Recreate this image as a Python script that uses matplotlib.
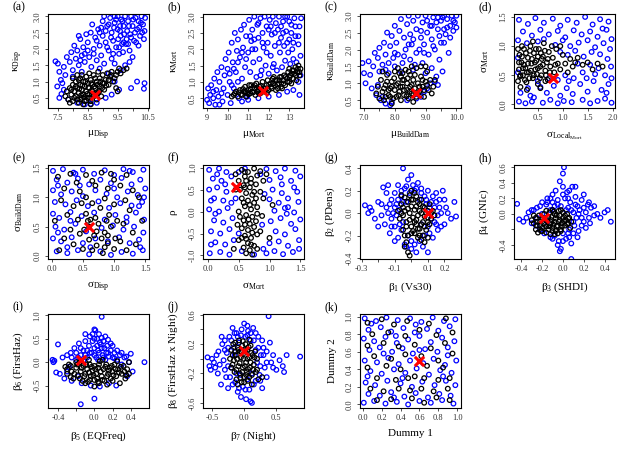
import matplotlib
matplotlib.use("Agg")
import matplotlib.pyplot as plt

plt.rcParams['font.family'] = ['Liberation Serif', 'DejaVu Serif']
plt.rcParams['mathtext.fontset'] = 'custom'
plt.rcParams['mathtext.rm'] = 'Liberation Serif'
plt.rcParams['mathtext.it'] = 'Liberation Serif:italic'

# ---------------- data ----------------
# (a) mu_Disp vs kappa_Disp
a_blue = [(7.42,1.62),(7.5,1.55),(7.55,1.3),(7.48,0.85),(7.6,1.05),(7.62,0.62),(7.55,0.5),(7.7,1.45),(7.75,1.2),(7.8,1.75),
          (7.85,0.45),(7.9,1.6),(7.95,1.9),(8.0,1.35),(8.05,2.1),(8.1,1.7),(8.15,1.95),(8.2,1.5),(8.25,2.3),(8.3,1.8),
          (8.35,2.05),(8.4,1.6),(8.45,2.45),(8.5,2.2),(8.55,1.75),(8.6,2.5),(8.62,1.45),(8.7,2.0),(8.75,2.35),(8.8,1.65),
          (8.85,2.6),(8.9,2.1),(8.95,1.8),(9.0,2.85),(9.0,2.4),(9.05,1.55),(9.1,2.2),(9.15,2.7),(9.2,1.95),(9.25,2.95),
          (9.3,2.5),(9.3,1.7),(9.35,2.25),(9.4,2.8),(9.45,2.05),(9.5,2.6),(9.5,3.0),(9.55,1.85),(9.6,2.4),(9.62,2.9),
          (9.65,2.15),(9.7,2.7),(9.75,3.0),(9.8,2.3),(9.82,2.55),(9.85,2.85),(9.9,1.95),(9.92,2.45),(9.95,3.0),(10.0,2.7),
          (10.05,2.25),(10.1,2.95),(10.15,2.6),(10.2,2.85),(10.25,2.4),(10.3,3.0),(10.35,2.75),(10.4,2.55),(10.42,2.95),(9.9,1.6),
          (10.0,1.75),(10.15,1.0),(10.4,0.95),(10.38,0.78),(9.95,0.8),(9.55,0.75),(9.4,1.0),(9.6,1.35),(9.75,1.5),(8.4,0.3),
          (8.6,0.32),(8.8,0.35),(9.1,0.5),(9.3,0.6),(7.7,0.75),(7.65,0.95),(8.15,0.35),(8.0,1.15),(8.9,1.4),(9.2,1.25),
          (9.4,1.55),(8.3,1.3),(9.68,1.9),(9.85,2.15),(10.2,2.1),(9.05,3.0),(9.4,3.0),(8.65,2.75),(8.2,2.4),(9.58,2.7),
          (9.1,2.55),(9.2,2.75),(9.28,2.35),(9.38,2.65),(9.45,2.9),(9.52,2.3),(9.58,2.55),(9.66,2.85),(9.72,2.45),(9.78,2.15),
          (9.88,2.7),(9.95,2.35),(10.02,2.9),(10.08,2.5),(10.12,2.2),(10.22,2.65),(10.28,2.8),(10.32,2.5),(10.38,2.3),(8.9,2.5),
          (8.8,2.25),(8.7,1.85),(8.5,1.95),(8.4,1.85),(8.25,1.65),(8.95,2.65),(9.15,2.05),(9.35,1.85),(9.55,2.05),(9.7,2.2)]
a_black = [(7.75,0.55),(7.8,0.7),(7.85,0.45),(7.9,0.8),(7.95,0.6),(8.0,0.9),(8.0,0.4),(8.05,0.7),(8.1,1.0),(8.1,0.55),
           (8.15,0.8),(8.2,0.35),(8.2,0.65),(8.25,1.1),(8.25,0.9),(8.3,0.5),(8.3,0.75),(8.35,1.0),(8.35,0.6),(8.4,0.4),
           (8.4,0.85),(8.45,1.15),(8.45,0.7),(8.5,0.5),(8.5,0.95),(8.55,0.8),(8.55,0.6),(8.6,1.05),(8.6,0.4),(8.65,0.7),
           (8.65,0.9),(8.7,1.2),(8.7,0.55),(8.75,0.8),(8.8,1.0),(8.8,0.45),(8.85,0.65),(8.9,1.1),(8.9,0.85),(8.95,0.55),
           (9.0,0.95),(9.0,1.2),(9.05,0.75),(9.1,1.05),(9.15,1.25),(9.2,0.9),(9.25,1.15),(9.3,1.3),(9.35,1.0),(9.45,1.2),
           (9.5,1.3),(9.6,1.25),(9.7,1.35),(9.8,1.4),(8.25,0.45),(8.55,1.25),(8.0,1.1),(7.9,0.35),(8.35,0.3),(9.45,0.8),
           (9.5,0.7),(8.15,1.2),(8.85,1.3),(8.6,0.3),
           (7.95,0.75),(8.05,0.5),(8.1,0.85),(8.15,0.45),(8.2,1.05),(8.22,0.78),(8.28,0.58),(8.32,0.88),(8.38,0.52),(8.42,1.0),
           (8.48,0.62),(8.52,0.82),(8.58,0.5),(8.62,0.95),(8.68,0.62),(8.72,0.85),(8.78,0.62),(8.82,0.9),(8.88,0.7),(8.92,1.0),
           (8.98,0.8),(9.05,0.95),(9.12,0.88),(9.2,1.05),(9.28,1.2),(9.4,1.1),(8.45,0.42),(8.3,1.2),(8.75,1.1),(9.55,1.4)]
a_best = (8.75, 0.6)

# (b) mu_Mort vs kappa_Mort
b_blue = [(9.0,0.45),(9.05,0.8),(9.1,0.35),(9.15,0.6),(9.2,0.9),(9.3,0.5),(9.35,1.1),(9.4,0.3),(9.45,0.75),(9.5,1.3),
          (9.55,0.55),(9.6,1.0),(9.7,1.45),(9.75,0.4),(9.8,0.8),(9.85,1.2),(9.9,1.7),(10.0,0.6),(10.0,1.4),(10.05,1.9),
          (10.1,1.0),(10.15,0.35),(10.2,2.2),(10.25,1.6),(10.3,0.8),(10.35,2.5),(10.4,1.3),(10.45,1.95),(10.5,2.3),(10.55,0.5),
          (10.6,1.75),(10.65,2.6),(10.7,1.1),(10.75,2.05),(10.8,2.75),(10.85,1.45),(10.9,2.4),(10.95,0.55),(11.0,1.9),(11.05,2.9),
          (11.1,1.3),(11.15,2.25),(11.2,2.6),(11.25,1.6),(11.3,3.0),(11.35,2.0),(11.4,1.15),(11.45,2.75),(11.5,2.35),(11.55,1.7),
          (11.6,2.95),(11.65,1.35),(11.7,2.5),(11.75,2.05),(11.8,3.0),(11.85,1.5),(11.9,2.7),(11.95,2.2),(12.0,1.25),(12.05,2.9),
          (12.1,1.8),(12.15,2.45),(12.2,3.0),(12.25,1.55),(12.3,2.1),(12.35,2.8),(12.4,1.35),(12.45,2.6),(12.5,3.0),(12.55,1.9),
          (12.6,2.35),(12.65,1.45),(12.7,2.85),(12.75,2.1),(12.8,1.65),(12.85,2.55),(12.9,3.0),(12.95,1.9),(13.0,2.3),(13.05,1.55),
          (13.1,2.75),(13.15,2.0),(13.2,1.7),(13.25,2.95),(13.3,2.4),(13.35,1.6),(13.45,2.15),(13.5,2.7),(13.5,0.6),(13.2,0.75),
          (12.9,0.7),(12.5,0.6),(12.0,0.55),(11.5,0.5),(11.0,0.45),(10.7,0.4),(13.55,1.2),(10.5,1.0),(9.6,0.3),(13.55,1.8),
          (12.8,3.0),(12.0,2.6),(11.2,2.0),(13.58,2.95),(13.45,1.0),
          (10.1,1.25),(10.3,1.4),(10.5,1.6),(10.7,1.9),(10.9,1.7),(11.1,2.4),(11.3,2.3),(11.5,2.8),(11.7,2.2),(11.9,1.9),
          (12.1,2.7),(12.3,2.5),(12.5,2.2),(12.7,2.5),(12.9,2.2),(13.1,2.5),(13.3,2.7),(13.45,2.4),(13.2,2.2),(12.6,2.7),
          (13.0,2.85),(11.6,1.2),(12.2,1.45),(9.7,0.65),(10.2,0.9),(9.3,0.7)]
b_black = [(10.2,0.55),(10.3,0.6),(10.4,0.7),(10.5,0.55),(10.6,0.75),(10.7,0.6),(10.8,0.7),(10.85,0.85),(10.9,0.55),(11.0,0.75),
           (11.1,0.65),(11.15,0.9),(11.2,0.7),(11.3,0.8),(11.35,0.6),(11.4,0.95),(11.5,0.75),(11.55,0.85),(11.6,0.65),(11.7,1.0),
           (11.75,0.8),(11.8,0.7),(11.9,0.9),(11.95,1.05),(12.0,0.75),(12.1,0.95),(12.15,0.8),(12.2,1.1),(12.3,0.9),(12.35,0.75),
           (12.4,1.05),(12.5,0.95),(12.55,1.15),(12.6,0.85),(12.7,1.05),(12.75,1.2),(12.8,0.9),(12.9,1.1),(12.95,1.3),(13.0,1.0),
           (13.05,1.2),(13.1,0.95),(13.15,1.35),(13.2,1.1),(13.25,1.25),(13.3,1.45),(13.35,1.05),(13.4,1.3),(13.45,1.5),(12.65,0.8),
           (12.25,1.15),(11.45,0.7),(11.05,0.9),(10.95,0.65),(13.0,1.4),(12.45,0.8),(13.5,1.2),(13.55,1.4),
           (10.35,0.65),(10.55,0.68),(10.65,0.62),(10.75,0.78),(10.88,0.7),(11.02,0.62),(11.12,0.78),(11.25,0.68),(11.32,0.9),(11.42,0.82),
           (11.52,0.65),(11.62,0.88),(11.72,0.72),(11.85,0.8),(11.92,0.68),(12.02,0.92),(12.12,0.85),(12.22,0.95),(12.32,1.05),(12.42,0.92),
           (12.52,1.05),(12.62,1.15),(12.72,0.95),(12.82,1.15),(12.92,1.0),(13.02,1.15),(13.12,1.25),(13.22,1.35),(13.32,1.2),(13.42,1.4),
           (13.5,1.3)]
b_best = (11.7, 0.73)

# (c) mu_BuildDam vs kappa_BuildDam
c_blue = [(6.95,1.6),(7.0,1.3),(7.05,1.0),(7.15,1.65),(7.2,1.25),(7.25,0.85),(7.3,1.5),(7.35,1.9),(7.4,0.65),(7.45,1.75),
          (7.5,2.05),(7.5,1.35),(7.55,0.5),(7.6,1.55),(7.65,2.2),(7.7,1.85),(7.7,0.4),(7.75,2.5),(7.8,1.6),(7.85,2.1),
          (7.9,2.4),(7.95,1.75),(8.0,2.7),(8.0,1.5),(8.05,2.2),(8.1,1.85),(8.15,2.55),(8.2,2.9),(8.25,1.6),(8.3,2.35),
          (8.35,2.0),(8.4,2.75),(8.45,3.0),(8.5,1.7),(8.5,2.45),(8.55,2.15),(8.6,2.85),(8.65,1.55),(8.7,2.6),(8.75,3.0),
          (8.8,2.0),(8.85,2.35),(8.9,1.6),(8.9,2.8),(8.95,2.15),(9.0,3.0),(9.0,1.3),(9.05,2.5),(9.1,1.85),(9.15,2.7),
          (9.2,1.45),(9.2,2.3),(9.25,2.95),(9.3,2.0),(9.35,1.2),(9.4,2.6),(9.45,1.7),(9.5,2.85),(9.5,2.2),(9.55,1.35),
          (9.6,3.0),(9.65,2.45),(9.7,2.9),(9.75,1.9),(9.8,2.7),(9.85,3.0),(9.9,2.55),(9.95,2.8),(10.0,3.0),(10.0,2.65),
          (9.55,2.95),(9.6,2.6),(9.3,1.05),(9.15,1.0),(8.95,0.75),(8.7,0.55),(8.4,0.5),(7.9,0.45),(7.6,0.6),(7.45,0.95),
          (7.85,0.35),(9.4,0.95),(9.05,0.85),(8.85,0.6),(8.6,1.4),(8.2,1.35),(7.8,1.3),
          (9.35,2.8),(9.45,2.4),(9.7,2.65),(9.8,2.35),(9.9,2.85),(9.2,2.7),(9.05,2.85),(8.85,2.55),(8.6,2.3),(8.45,2.15),
          (8.3,1.8),(8.0,1.9),(7.7,1.4),(9.25,2.1),(9.6,2.2),(8.7,1.9),(8.95,1.9),(9.4,2.95)]
c_black = [(7.4,0.7),(7.45,0.9),(7.5,0.55),(7.55,1.1),(7.6,0.75),(7.65,0.5),(7.7,0.95),(7.75,1.25),(7.8,0.65),(7.85,0.85),
           (7.9,1.05),(7.95,0.55),(8.0,1.35),(8.0,0.8),(8.05,0.6),(8.1,1.0),(8.1,1.45),(8.15,0.75),(8.2,1.2),(8.2,0.5),
           (8.25,0.9),(8.3,1.1),(8.3,0.65),(8.35,1.4),(8.4,0.8),(8.4,1.0),(8.45,0.55),(8.5,1.25),(8.5,0.9),(8.55,0.7),
           (8.6,1.1),(8.65,0.85),(8.7,1.45),(8.7,0.6),(8.75,1.0),(8.8,0.75),(8.85,1.2),(8.9,0.9),(8.95,0.6),(9.0,1.05),
           (9.05,1.35),(9.1,0.8),(9.15,1.1),(9.2,0.7),(9.3,1.1),(9.0,1.5),(8.85,1.5),(8.55,1.5),(7.6,1.35),(7.9,0.4),
           (8.6,0.45),(9.25,0.9),(7.7,0.6),(8.25,1.3),
           (7.65,0.85),(7.75,1.05),(7.85,0.6),(7.9,0.9),(7.98,1.15),(8.05,0.95),(8.12,0.65),(8.18,0.9),(8.25,1.1),(8.3,0.8),
           (8.38,0.62),(8.42,1.15),(8.48,0.75),(8.55,0.95),(8.6,0.65),(8.65,1.25),(8.75,0.7),(8.8,0.9),(8.9,1.1),(8.95,0.8),
           (9.05,0.95),(8.15,1.3),(8.45,1.35),(7.8,0.8)]
c_best = (8.7, 0.7)

# (d) sigma_Local_Mort vs sigma_Mort
d_blue = [(0.12,1.45),(0.3,1.38),(0.45,1.48),(0.62,1.4),(0.8,1.47),(0.95,1.35),(1.1,1.45),(1.28,1.4),(1.45,1.5),(1.6,1.37),
          (1.75,1.46),(1.92,1.42),(0.2,1.25),(0.38,1.18),(0.55,1.28),(0.72,1.2),(0.9,1.26),(1.05,1.15),(1.22,1.27),(1.38,1.2),
          (1.55,1.25),(1.7,1.16),(1.88,1.28),(1.98,1.12),(0.1,1.1),(0.28,1.05),(0.5,1.08),(0.85,1.02),(1.0,1.1),(1.15,1.0),
          (1.32,1.06),(1.5,1.1),(1.65,0.98),(1.82,1.05),(1.95,0.95),(0.95,0.9),(1.1,0.85),(1.25,0.92),(1.42,0.82),(1.58,0.9),
          (1.75,0.86),(1.9,0.78),(1.3,0.7),(1.55,0.68),(1.72,0.62),(1.97,0.65),(1.4,0.55),(1.85,0.5),(0.15,0.2),(0.3,0.28),
          (0.42,0.12),(0.55,0.3),(0.68,0.2),(0.82,0.32),(0.95,0.15),(1.08,0.28),(1.2,0.18),(1.35,0.35),(1.5,0.22),(1.62,0.4),
          (1.78,0.25),(1.92,0.35),(0.12,0.05),(0.25,0.02),(0.38,0.05),(0.6,0.03),(0.75,0.08),(0.9,0.02),(1.02,0.06),(1.18,0.04),
          (1.4,0.08),(1.55,0.02),(1.7,0.06),(1.85,0.1),(1.98,0.03),(0.5,0.4),(0.72,0.45),(0.9,0.42),(1.05,0.5),(1.22,0.45),
          (1.48,0.45),(1.65,0.52),(1.98,0.45),(0.35,0.15),(1.12,0.4),(1.88,0.2),(0.62,1.12),(1.8,1.3),(0.1,0.55),(0.1,0.8)]
d_black = [(0.1,0.4),(0.12,0.6),(0.13,0.85),(0.15,0.3),(0.17,0.72),(0.2,0.5),(0.22,0.95),(0.25,0.62),(0.27,0.38),(0.3,0.8),
           (0.32,0.55),(0.35,1.0),(0.37,0.7),(0.4,0.45),(0.42,0.88),(0.45,0.6),(0.47,0.75),(0.5,0.35),(0.52,0.95),(0.55,0.65),
           (0.57,0.5),(0.6,0.82),(0.62,1.05),(0.65,0.58),(0.68,0.72),(0.7,0.42),(0.72,0.9),(0.75,0.65),(0.8,0.8),(0.83,0.55),
           (0.87,0.95),(0.9,0.7),(0.95,0.6),(1.0,0.85),(1.05,0.7),(1.1,0.55),(1.15,0.78),(1.2,0.65),(1.3,0.8),(1.4,0.68),
           (1.5,0.72),(1.6,0.6),(1.7,0.7),(1.8,0.65),(0.18,1.0),(0.28,0.25),(0.4,1.08),(0.55,0.28),(0.1,0.95),(0.33,0.45),
           (0.48,0.52),(0.58,0.78),(0.22,0.68),(0.15,0.5),(0.78,1.0),(0.95,1.0),(0.65,0.4),
           (0.12,0.72),(0.14,0.48),(0.18,0.82),(0.2,0.62),(0.24,0.42),(0.26,0.88),(0.28,0.55),(0.3,0.7),(0.34,0.92),(0.36,0.58),
           (0.38,0.78),(0.42,0.5),(0.44,0.72),(0.46,0.95),(0.5,0.62),(0.5,0.82),(0.54,0.45),(0.56,0.88),(0.6,0.68),(0.64,0.92),
           (0.66,0.5),(0.7,0.78),(0.74,0.55),(0.85,0.68),(1.25,0.72)]
d_best = (0.8, 0.45)

# (e) sigma_Disp vs sigma_BuildDam
e_blue = [(0.02,1.45),(0.18,1.48),(0.35,1.42),(0.5,1.47),(0.68,1.4),(0.85,1.46),(1.0,1.38),(1.15,1.48),(1.3,1.43),(1.47,1.47),
          (0.08,1.3),(0.25,1.25),(0.42,1.32),(0.6,1.22),(0.78,1.3),(0.95,1.24),(1.12,1.33),(1.28,1.22),(1.42,1.3),(0.02,1.12),
          (0.15,1.05),(0.32,1.1),(0.5,1.02),(0.7,1.12),(0.88,1.06),(1.05,1.0),(1.22,1.1),(1.38,1.04),(1.5,1.15),(0.05,0.92),
          (0.22,0.88),(0.4,0.95),(0.58,0.85),(0.75,0.93),(0.92,0.82),(1.1,0.9),(1.28,0.86),(1.45,0.92),(0.02,0.72),(0.12,0.65),
          (0.3,0.75),(0.48,0.68),(0.68,0.74),(0.85,0.62),(1.02,0.7),(1.2,0.66),(1.35,0.74),(1.48,0.62),(0.06,0.5),(0.2,0.45),
          (0.38,0.55),(0.55,0.42),(0.8,0.48),(0.98,0.52),(1.15,0.45),(1.32,0.5),(1.47,0.4),(0.02,0.3),(0.15,0.25),(0.32,0.32),
          (0.5,0.22),(0.7,0.3),(0.9,0.25),(1.08,0.32),(1.25,0.22),(1.4,0.28),(0.08,0.08),(0.25,0.05),(0.42,0.1),(0.6,0.03),
          (0.78,0.08),(0.95,0.02),(1.12,0.07),(1.3,0.04),(1.46,0.1),(0.3,0.6),(1.25,1.45),(0.45,1.2),(1.0,1.15),(0.1,0.4),
          (1.42,0.15),(0.62,0.15),(0.1,1.2),(0.38,1.4),(1.4,0.85),(1.2,0.58),(0.25,0.15),(1.48,1.0)]
e_black = [(0.1,1.35),(0.3,1.4),(0.55,1.38),(0.65,1.28),(0.8,1.42),(1.0,1.3),(1.2,1.38),(0.2,1.15),(0.45,1.1),(0.7,1.2),
           (0.9,1.15),(1.1,1.2),(1.3,1.12),(0.15,0.95),(0.35,0.85),(0.55,1.0),(0.65,0.9),(0.85,0.98),(1.0,0.88),(1.18,0.95),
           (1.4,1.0),(0.25,0.7),(0.42,0.62),(0.55,0.72),(0.7,0.65),(0.78,0.82),(0.92,0.7),(1.05,0.6),(1.25,0.78),(0.3,0.45),
           (0.45,0.38),(0.6,0.5),(0.68,0.35),(0.75,0.55),(0.85,0.4),(0.95,0.5),(1.02,0.3),(1.15,0.55),(1.3,0.4),(0.35,0.2),
           (0.5,0.12),(0.6,0.28),(0.72,0.18),(0.82,0.05),(0.9,0.22),(1.0,0.12),(1.1,0.25),(1.2,0.1),(1.35,0.2),(0.2,0.3),
           (0.48,0.9),(0.62,0.62),(0.88,0.6),(0.8,0.3),(1.45,0.6),(0.05,0.6),(0.12,0.1),(0.4,1.25),(0.95,1.4),
           (0.52,0.45),(0.72,0.42),(0.9,0.35),(0.65,0.1),(0.85,0.15),(0.58,0.6)]
e_best = (0.6, 0.5)

# (f) sigma_Mort vs rho
f_blue = [(0.02,0.95),(0.18,0.98),(0.3,0.9),(0.95,0.97),(1.1,0.92),(1.25,0.98),(1.42,0.93),(0.08,0.75),(0.22,0.7),(0.38,0.8),
          (1.0,0.72),(1.18,0.78),(1.35,0.7),(1.5,0.8),(0.02,0.5),(0.15,0.55),(0.3,0.45),(1.05,0.5),(1.2,0.42),(1.4,0.55),
          (0.1,0.3),(0.25,0.25),(0.38,0.2),(1.0,0.28),(1.15,0.2),(1.3,0.3),(1.47,0.22),(0.02,0.05),(0.18,0.0),(0.32,0.08),
          (1.08,0.02),(1.25,0.08),(1.4,-0.02),(0.1,-0.2),(0.25,-0.25),(0.4,-0.15),(1.02,-0.22),(1.18,-0.15),(1.35,-0.28),(1.5,-0.18),
          (0.05,-0.45),(0.2,-0.5),(0.35,-0.4),(1.1,-0.45),(1.25,-0.52),(1.42,-0.4),(0.12,-0.7),(0.28,-0.75),(0.42,-0.65),(1.0,-0.72),
          (1.15,-0.68),(1.3,-0.78),(1.48,-0.65),(0.03,-0.95),(0.2,-0.92),(0.35,-0.98),(0.95,-0.95),(1.08,-0.9),(1.22,-0.97),(1.38,-0.92),
          (0.5,0.9),(0.55,-0.9),(0.85,0.85),(0.9,-0.85),(0.45,0.3),(0.88,-0.3),(0.92,0.4),(0.5,-0.5),(0.6,0.98),(0.75,-0.98),
          (0.05,0.25),(0.05,-0.75),(1.45,0.45),(1.48,-0.85),(0.28,0.62),(1.3,0.1),(0.15,0.85),(0.12,-0.05),(1.2,0.62),(1.28,-0.05)]
f_black = [(0.55,0.95),(0.65,0.9),(0.75,0.98),(0.85,0.92),(0.6,0.8),(0.7,0.75),(0.8,0.82),(0.5,0.7),(0.9,0.7),(0.58,0.6),
           (0.68,0.55),(0.78,0.62),(0.45,0.5),(0.62,0.42),(0.72,0.38),(0.85,0.45),(0.55,0.3),(0.65,0.25),(0.75,0.2),(0.6,0.12),
           (0.7,0.05),(0.8,0.1),(0.5,0.0),(0.62,-0.08),(0.72,-0.12),(0.58,-0.2),(0.68,-0.28),(0.78,-0.22),(0.55,-0.38),(0.65,-0.42),
           (0.75,-0.35),(0.85,-0.45),(0.6,-0.55),(0.7,-0.6),(0.8,-0.52),(0.5,-0.65),(0.65,-0.72),(0.75,-0.78),(0.58,-0.82),(0.68,-0.88),
           (0.8,-0.85),(0.62,-0.95),(0.72,-0.98),(0.9,0.3),(0.88,-0.1),(0.48,-0.3),(0.52,0.5),(0.95,0.85),(1.05,0.15),(1.0,-0.6),
           (0.42,-0.85),(0.45,0.85),
           (0.6,0.9),(0.7,0.65),(0.62,0.7),(0.75,0.45),(0.58,0.2),(0.68,0.15),(0.66,-0.18),(0.6,-0.3),(0.72,-0.48),(0.55,-0.6),
           (0.62,-0.62),(0.7,-0.75),(0.6,0.55),(0.8,-0.05),(0.52,-0.12),(0.78,0.3)]
f_best = (0.45, 0.55)

# (g) beta1 (Vs30) vs beta2 (PDens)
g_blue = [(-0.28,0.07),(-0.26,0.0),(-0.24,0.02),(-0.22,-0.05),(-0.2,0.1),(-0.18,-0.02),(-0.17,0.23),(-0.16,-0.1),(-0.15,0.05),(-0.14,0.25),
          (-0.13,-0.18),(-0.12,0.12),(-0.12,-0.05),(-0.11,0.0),(-0.1,0.18),(-0.1,-0.12),(-0.09,0.08),(-0.08,-0.22),(-0.08,0.25),(-0.07,0.03),
          (-0.06,0.15),(-0.06,-0.15),(-0.05,0.4),(-0.05,-0.08),(-0.04,0.22),(-0.04,-0.28),(-0.03,0.1),(-0.02,0.3),(-0.02,-0.2),(-0.01,0.18),
          (0.0,-0.32),(0.0,0.34),(0.01,0.25),(0.02,-0.28),(0.02,0.2),(0.03,-0.35),(0.04,0.27),(0.05,-0.25),(0.06,0.22),(0.07,-0.3),
          (0.08,0.15),(0.08,-0.2),(0.09,0.08),(0.1,0.2),(0.1,-0.12),(0.11,0.05),(0.12,-0.05),(0.13,0.15),(0.14,-0.08),(0.15,0.1),
          (0.16,-0.02),(0.17,0.05),(0.18,0.0),(0.19,0.2),(0.2,-0.1),(0.21,0.05),(0.22,0.0),(0.24,-0.05),(0.26,0.1),(0.27,-0.03),
          (0.1,-0.35),(0.13,-0.22),(0.16,-0.15),(-0.15,0.18),(-0.2,-0.12),(-0.25,0.05),(0.05,0.12),(-0.05,0.1),(0.15,0.18),(-0.1,-0.25),
          (0.18,-0.12),(0.06,-0.1),(-0.13,0.08),(-0.18,0.08),(0.2,0.12),
          (-0.09,-0.02),(-0.08,0.12),(-0.07,-0.1),(-0.06,0.2),(-0.1,0.05),(0.09,0.12),(0.12,0.1),(0.14,0.05),(0.11,-0.18),(0.06,0.18),
          (-0.03,0.24),(0.03,0.22),(0.0,-0.25),(-0.12,-0.12),(0.15,-0.1),(-0.14,0.0),(0.17,0.12),(-0.03,-0.3)]
g_black = [(-0.07,-0.05),(-0.06,0.08),(-0.05,-0.15),(-0.04,0.02),(-0.04,0.14),(-0.03,-0.08),(-0.02,0.1),(-0.02,-0.2),(-0.01,0.0),(-0.01,0.16),
           (0.0,-0.12),(0.0,0.06),(0.01,-0.04),(0.01,0.12),(0.02,-0.18),(0.02,0.03),(0.03,-0.1),(0.03,0.15),(0.04,-0.02),(0.04,-0.22),
           (0.05,0.08),(0.05,-0.14),(0.06,0.0),(0.06,0.12),(0.07,-0.08),(0.07,-0.2),(0.08,0.05),(0.08,-0.03),(0.09,-0.15),(0.1,0.02),
           (0.1,-0.08),(0.11,0.08),(0.12,-0.05),(0.12,0.0),(0.13,0.02),(0.14,-0.02),(0.1,-0.22),(0.08,-0.26),(0.06,-0.24),(-0.03,-0.26),
           (-0.04,-0.3),(-0.02,-0.35),(-0.01,-0.38),(0.02,0.18),(-0.06,0.16),(-0.08,0.02),(0.0,0.2),(0.04,0.1),(-0.05,-0.02),(0.03,-0.06),
           (-0.05,0.05),(-0.03,-0.12),(-0.02,0.04),(-0.01,-0.06),(0.0,0.12),(0.01,-0.16),(0.02,-0.08),(0.03,0.06),(0.04,-0.14),(0.05,0.02),
           (0.06,-0.1),(0.07,0.06),(0.08,-0.12),(0.09,0.0),(0.1,-0.04),(0.11,-0.1),(-0.04,-0.2),(0.0,-0.18),(0.05,-0.2),(-0.06,0.0)]
g_best = (0.1, 0.0)

# (h) beta3 (SHDI) vs beta4 (GNIc)
h_blue = [(-0.44,0.13),(-0.42,-0.07),(-0.38,-0.1),(-0.35,-0.05),(-0.33,0.02),(-0.3,-0.12),(-0.28,0.05),(-0.26,-0.15),(-0.25,0.08),(-0.22,-0.2),
          (-0.2,0.15),(-0.18,-0.25),(-0.16,0.12),(-0.15,0.2),(-0.12,-0.3),(-0.1,0.25),(-0.1,0.05),(-0.08,-0.28),(-0.07,0.3),(-0.05,0.18),
          (-0.04,-0.35),(-0.03,0.42),(-0.02,0.1),(-0.02,-0.45),(0.0,0.35),(0.0,-0.25),(0.01,0.6),(0.0,0.52),(0.02,0.2),(0.03,-0.32),
          (0.04,0.28),(0.05,0.08),(0.06,-0.2),(0.07,0.15),(0.08,-0.38),(0.08,-0.58),(0.09,0.35),(0.1,0.02),(0.11,-0.15),(0.12,0.22),
          (0.13,-0.05),(0.14,0.1),(0.15,-0.22),(0.16,0.05),(0.18,0.18),(0.2,-0.1),(0.22,0.02),(0.24,0.12),(0.25,-0.05),(0.27,0.08),
          (0.3,-0.02),(0.33,0.0),(0.36,-0.05),(0.4,0.02),(0.43,0.05),(0.46,-0.1),(0.26,-0.12),(-0.05,-0.4),(-0.03,-0.48),(0.06,-0.3),
          (0.12,0.35),(-0.15,-0.1),(-0.2,0.0),(0.18,-0.15),(-0.08,0.1),(0.1,-0.25),(0.03,0.05),(-0.12,0.05),(0.2,0.25),(-0.25,-0.05),
          (0.22,-0.18),(0.3,0.1),
          (-0.1,0.15),(0.05,0.2),(0.08,0.05),(0.1,-0.1),(0.15,0.0),(0.12,0.12),(0.05,-0.25),(-0.05,0.12),(-0.15,0.15),(-0.22,0.1),
          (0.2,0.08),(0.25,0.15),(-0.3,0.05),(0.0,0.25),(0.06,0.3),(-0.12,0.2),(0.18,-0.05),(0.0,-0.35),(-0.1,-0.32),(0.14,-0.3)]
h_black = [(-0.3,-0.08),(-0.28,-0.12),(-0.26,-0.05),(-0.25,-0.15),(-0.23,-0.02),(-0.22,-0.1),(-0.2,-0.18),(-0.19,-0.06),(-0.18,0.0),(-0.17,-0.14),
           (-0.15,-0.08),(-0.14,-0.2),(-0.13,0.02),(-0.12,-0.12),(-0.11,-0.04),(-0.1,-0.18),(-0.09,0.03),(-0.08,-0.1),(-0.07,-0.22),(-0.06,-0.02),
           (-0.05,-0.15),(-0.04,0.04),(-0.03,-0.08),(-0.02,-0.2),(-0.01,-0.12),(0.0,0.02),(0.0,-0.05),(0.02,-0.15),(0.03,-0.08),(0.04,0.0),
           (0.05,-0.12),(0.06,-0.05),(0.07,-0.18),(-0.26,-0.2),(-0.24,-0.24),(-0.21,-0.22),(-0.16,-0.24),(-0.12,-0.26),(-0.08,-0.26),(-0.1,0.05),
           (-0.16,0.04),(-0.02,0.05),(0.08,-0.1),(-0.05,-0.25),
           (-0.28,-0.02),(-0.25,-0.1),(-0.22,-0.15),(-0.2,-0.05),(-0.18,-0.12),(-0.16,-0.16),(-0.14,-0.04),(-0.13,-0.16),(-0.11,-0.08),(-0.09,-0.14),
           (-0.07,-0.06),(-0.06,-0.16),(-0.04,-0.1),(-0.03,-0.02),(-0.01,-0.16),(0.01,-0.09),(0.02,-0.02),(0.04,-0.13),(0.05,-0.06),(-0.2,-0.22),
           (-0.1,-0.22),(-0.02,-0.22),(-0.08,0.0)]
h_best = (-0.18, -0.05)

# (i) beta5 (EQFreq) vs beta6 (FirstHaz)
i_blue = [(-0.46,0.05),(-0.45,0.0),(-0.42,-0.22),(-0.4,0.38),(-0.38,-0.25),(-0.35,0.1),(-0.33,-0.35),(-0.3,0.15),(-0.28,-0.1),(-0.26,0.2),
          (-0.25,-0.4),(-0.22,0.3),(-0.2,0.05),(-0.18,-0.3),(-0.17,0.4),(-0.15,0.15),(-0.14,-0.45),(-0.12,0.25),(-0.1,0.6),(-0.1,0.45),
          (-0.08,0.1),(-0.06,0.35),(-0.05,0.55),(-0.04,-0.5),(-0.03,0.2),(-0.02,0.45),(0.0,0.7),(0.0,0.3),(0.01,0.68),(0.02,0.1),
          (0.03,0.5),(0.04,0.25),(0.05,0.6),(0.06,-0.52),(0.07,0.38),(0.08,0.97),(0.09,0.15),(0.1,0.45),(0.11,0.3),(0.12,0.05),
          (0.14,0.35),(0.15,0.2),(0.16,-0.45),(0.18,0.25),(0.2,0.1),(0.22,0.2),(0.24,-0.5),(0.25,0.05),(0.28,0.15),(0.3,-0.05),
          (0.33,0.1),(0.36,-0.3),(0.38,0.0),(0.4,0.18),(0.42,-0.2),(0.55,0.0),(-0.15,-0.9),(0.0,-0.78),(-0.44,0.03),(-0.3,-0.2),
          (0.12,0.55),(-0.08,0.25),(0.2,0.35),(-0.2,0.2),(0.06,0.42),(-0.12,0.02),(0.3,0.2),(0.35,0.12),
          (-0.18,0.1),(-0.1,0.15),(-0.05,0.2),(0.0,0.15),(0.03,0.35),(0.05,0.2),(0.08,0.3),(0.1,0.1),(0.13,0.2),(0.16,0.12),
          (0.18,0.4),(-0.02,0.6),(0.04,0.05),(0.22,0.08),(-0.25,0.1),(0.25,0.25),(-0.15,0.3),(0.0,0.5),(0.08,0.52),(0.15,0.48)]
i_black = [(-0.32,-0.1),(-0.3,-0.25),(-0.28,-0.05),(-0.25,-0.2),(-0.23,-0.35),(-0.2,-0.12),(-0.18,-0.28),(-0.16,0.0),(-0.15,-0.2),(-0.13,-0.4),
           (-0.12,-0.08),(-0.1,-0.25),(-0.08,-0.15),(-0.07,-0.42),(-0.05,-0.05),(-0.04,-0.3),(-0.02,-0.18),(0.0,-0.38),(0.0,-0.08),(0.02,-0.25),
           (0.04,-0.12),(0.05,-0.45),(0.06,0.02),(0.08,-0.3),(0.1,-0.15),(0.11,-0.4),(0.13,-0.05),(0.15,-0.25),(0.17,-0.12),(0.18,-0.35),
           (0.2,-0.2),(0.22,-0.05),(0.24,-0.3),(0.26,-0.15),(0.28,-0.45),(0.3,-0.25),(0.32,-0.08),(0.34,-0.35),(0.36,-0.15),(0.38,0.0),
           (0.38,-0.25),(-0.26,-0.32),(-0.2,0.0),(-0.06,0.05),(0.09,0.05),(0.25,0.02),(0.14,-0.48),(-0.1,-0.45),(0.0,-0.52),
           (-0.3,-0.15),(-0.26,-0.08),(-0.22,-0.25),(-0.19,-0.05),(-0.16,-0.35),(-0.14,-0.12),(-0.11,-0.3),(-0.09,-0.05),(-0.06,-0.22),(-0.03,-0.1),
           (-0.01,-0.28),(0.01,-0.15),(0.03,-0.35),(0.05,-0.05),(0.07,-0.2),(0.09,-0.38),(0.12,-0.1),(0.14,-0.3),(0.16,-0.18),(0.19,-0.08),
           (0.21,-0.28),(0.23,-0.15),(0.27,-0.22),(0.29,-0.1),(0.33,-0.2),(0.35,-0.28),(0.04,-0.42),(-0.05,-0.38),(0.2,-0.4)]
i_best = (-0.15, 0.05)

# (j) beta7 (Night) vs beta8 (FirstHaz x Night)
j_blue = [(-0.57,0.02),(-0.54,-0.1),(-0.52,-0.15),(-0.5,0.0),(-0.47,-0.05),(-0.45,-0.12),(-0.43,0.05),(-0.41,-0.2),(-0.4,0.1),(-0.38,-0.08),
          (-0.36,-0.35),(-0.34,0.2),(-0.32,-0.02),(-0.3,0.25),(-0.28,-0.25),(-0.27,0.08),(-0.25,-0.4),(-0.23,0.3),(-0.2,-0.12),(-0.18,0.42),
          (-0.16,0.15),(-0.14,-0.32),(-0.12,0.35),(-0.1,-0.45),(-0.08,0.22),(-0.06,-0.22),(-0.04,0.4),(-0.02,-0.38),(0.0,0.48),(0.02,0.3),
          (0.03,-0.55),(0.05,-0.28),(0.06,0.38),(0.08,-0.42),(0.1,0.25),(0.12,-0.2),(0.14,0.42),(0.15,-0.35),(0.18,0.12),(0.2,-0.05),
          (0.22,0.3),(0.24,-0.22),(0.26,0.05),(0.28,-0.4),(0.3,0.15),(0.32,-0.12),(0.35,0.1),(0.38,0.58),(0.4,0.22),(0.42,-0.05),
          (0.45,0.05),(0.5,-0.15),(0.55,-0.02),(0.6,-0.1),(0.62,-0.18),(0.66,0.05),(0.87,0.03),(0.1,-0.58),(-0.05,-0.52),(0.12,-0.6),
          (-0.15,0.05),(0.28,0.25),(-0.3,0.12),(0.35,-0.25),(-0.22,-0.25),(0.18,0.35),(0.05,0.45),(-0.1,0.3),(0.25,-0.3),(-0.35,0.3),
          (0.45,-0.12),
          (-0.25,0.15),(-0.2,0.25),(-0.15,0.35),(-0.12,-0.2),(-0.25,-0.1),(0.22,0.15),(0.25,-0.1),(0.3,0.05),(0.15,0.25),(0.05,0.32),
          (-0.05,0.32),(0.1,0.35),(-0.3,-0.15),(0.35,-0.05),(-0.18,-0.35),(0.18,-0.3),(0.02,-0.42),(-0.08,-0.4)]
j_black = [(-0.22,0.0),(-0.2,0.12),(-0.18,-0.08),(-0.17,0.2),(-0.15,-0.18),(-0.13,0.05),(-0.12,-0.28),(-0.1,0.15),(-0.09,-0.1),(-0.08,0.25),
           (-0.07,-0.2),(-0.05,0.02),(-0.04,-0.32),(-0.03,0.18),(-0.02,-0.12),(0.0,0.08),(0.0,-0.25),(0.02,0.2),(0.03,-0.05),(0.04,-0.18),
           (0.05,0.12),(0.06,-0.3),(0.08,0.02),(0.09,-0.12),(0.1,0.18),(0.12,-0.22),(0.13,0.05),(0.15,-0.08),(0.17,0.1),(0.18,-0.18),
           (0.2,0.0),(0.22,-0.28),(-0.2,-0.12),(-0.1,-0.35),(0.08,0.26),(-0.14,0.22),(0.2,-0.15),(-0.06,0.1),(0.12,-0.35),(0.28,-0.25),
           (-0.18,0.05),(-0.16,-0.02),(-0.14,0.1),(-0.12,-0.15),(-0.11,0.0),(-0.09,0.12),(-0.07,-0.06),(-0.06,-0.26),(-0.04,0.1),(-0.03,-0.18),
           (-0.01,0.0),(0.01,-0.1),(0.02,0.12),(0.03,-0.22),(0.05,0.0),(0.06,-0.14),(0.07,0.16),(0.1,-0.05),(0.11,0.08),(0.14,-0.15),
           (0.16,0.02),(-0.02,0.24),(0.0,-0.32),(0.08,-0.25)]
j_best = (0.0, 0.1)

# (k) Dummy 1 vs Dummy 2
k_blue = [(0.02,0.98),(0.14,0.95),(0.25,0.99),(0.37,0.96),(0.5,0.98),(0.62,0.94),(0.74,0.99),(0.86,0.95),(0.98,0.97),(0.06,0.85),
          (0.19,0.88),(0.3,0.83),(0.43,0.87),(0.55,0.82),(0.68,0.86),(0.8,0.84),(0.92,0.89),(0.01,0.75),(0.12,0.72),(0.24,0.77),
          (0.36,0.7),(0.48,0.74),(0.6,0.78),(0.72,0.71),(0.84,0.76),(0.97,0.72),(0.07,0.62),(0.18,0.65),(0.31,0.6),(0.42,0.64),
          (0.53,0.58),(0.66,0.63),(0.79,0.6),(0.9,0.65),(0.02,0.5),(0.15,0.48),(0.27,0.53),(0.38,0.46),(0.5,0.5),(0.64,0.47),
          (0.75,0.52),(0.87,0.45),(0.99,0.5),(0.08,0.38),(0.2,0.35),(0.33,0.4),(0.45,0.36),(0.57,0.41),(0.7,0.34),(0.82,0.39),
          (0.94,0.36),(0.03,0.25),(0.13,0.22),(0.26,0.27),(0.4,0.24),(0.52,0.2),(0.63,0.26),(0.76,0.22),(0.88,0.27),(0.98,0.22),
          (0.06,0.12),(0.18,0.1),(0.3,0.14),(0.44,0.09),(0.56,0.13),(0.69,0.08),(0.81,0.12),(0.93,0.1),(0.01,0.02),(0.12,0.04),
          (0.24,0.01),(0.36,0.03),(0.48,0.0),(0.6,0.04),(0.72,0.02),(0.84,0.05),(0.96,0.01),
          (0.09,0.92),(0.56,0.91),(0.35,0.78),(0.9,0.56),(0.22,0.58),(0.6,0.62),(0.05,0.32),(0.42,0.3),(0.85,0.32),(0.33,0.08)]
k_black = [(0.05,0.93),(0.2,0.97),(0.33,0.91),(0.47,0.95),(0.7,0.92),(0.88,0.98),(0.1,0.8),(0.27,0.82),(0.45,0.78),(0.6,0.85),
           (0.78,0.79),(0.95,0.82),(0.05,0.67),(0.22,0.7),(0.38,0.66),(0.55,0.68),(0.72,0.64),(0.87,0.7),(0.12,0.55),(0.3,0.52),
           (0.45,0.57),(0.62,0.55),(0.8,0.5),(0.95,0.58),(0.05,0.42),(0.25,0.44),(0.4,0.4),(0.55,0.32),(0.68,0.44),(0.85,0.42),
           (0.15,0.3),(0.35,0.28),(0.48,0.3),(0.65,0.3),(0.8,0.28),(0.92,0.3),(0.08,0.18),(0.22,0.15),(0.38,0.18),(0.5,0.16),
           (0.62,0.18),(0.75,0.15),(0.9,0.18),(0.15,0.05),(0.3,0.06),(0.52,0.07),(0.65,0.02),(0.78,0.08),(0.92,0.05)]
k_best = (0.6, 0.5)

# axis labels
x_labels = [r'$\mathrm{μ_{Disp}}$', r'$\mathrm{μ_{Mort}}$', r'$\mathrm{μ_{BuildDam}}$', r'$\mathrm{σ_{Local_{Mort}}}$',
            r'$\mathrm{σ_{Disp}}$', r'$\mathrm{σ_{Mort}}$', r'$\mathrm{β_{1}}$ (Vs30)', r'$\mathrm{β_{3}}$ (SHDI)',
            r'$\mathrm{β_{5}}$ (EQFreq)', r'$\mathrm{β_{7}}$ (Night)', 'Dummy 1']
y_labels = [r'$\mathrm{κ_{Disp}}$', r'$\mathrm{κ_{Mort}}$', r'$\mathrm{κ_{BuildDam}}$', r'$\mathrm{σ_{Mort}}$',
            r'$\mathrm{σ_{BuildDam}}$', r'$\mathrm{ρ}$', r'$\mathrm{β_{2}}$ (PDens)', r'$\mathrm{β_{4}}$ (GNIc)',
            r'$\mathrm{β_{6}}$ (FirstHaz)', r'$\mathrm{β_{8}}$ (FirstHaz x Night)', 'Dummy 2']
tags = ['(a)', '(b)', '(c)', '(d)', '(e)', '(f)', '(g)', '(h)', '(i)', '(j)', '(k)']

# ---------------- layout ----------------
W, H = 623, 450
col_left = [48, 203, 360, 514]
row_top = [14, 165, 314]
aw, ah = 101, 94

# xlim, ylim, xticks, xticklabels, yticks, yticklabels
axes_spec = [
    ((7.17, 10.55), (0.19, 3.07), [7.5, 8.0, 8.5, 9.0, 9.5, 10.0, 10.5], ['7.5', '', '8.5', '', '9.5', '', '10.5'],
     [0.5, 1.0, 1.5, 2.0, 2.5, 3.0], None),
    ((8.8, 13.72), (0.2, 3.08), [9, 10, 11, 12, 13], None, [0.5, 1.0, 1.5, 2.0, 2.5, 3.0], None),
    ((6.87, 10.15), (0.27, 3.05), [7.0, 7.5, 8.0, 8.5, 9.0, 9.5, 10.0], ['7.0', '', '8.0', '', '9.0', '', '10.0'],
     [0.5, 1.0, 1.5, 2.0, 2.5, 3.0], None),
    ((0.02, 2.05), (-0.06, 1.55), [0.5, 1.0, 1.5, 2.0], None, [0.0, 0.5, 1.0, 1.5], None),
    ((-0.06, 1.56), (-0.05, 1.55), [0.0, 0.5, 1.0, 1.5], None, [0.0, 0.5, 1.0, 1.5], None),
    ((-0.08, 1.56), (-1.08, 1.06), [0.0, 0.5, 1.0, 1.5], None, [-1.0, -0.5, 0.0, 0.5, 1.0], None),
    ((-0.31, 0.30), (-0.41, 0.43), [-0.3, -0.2, -0.1, 0.0, 0.1, 0.2], ['-0.3', '', '-0.1', '', '0.1', '0.2'],
     [-0.4, -0.2, 0.0, 0.2, 0.4], None),
    ((-0.47, 0.5), (-0.58, 0.63), [-0.4, -0.2, 0.0, 0.2, 0.4], None,
     [-0.4, -0.2, 0.0, 0.2, 0.4, 0.6], ['-0.4', '', '0.0', '0.2', '0.4', '0.6']),
    ((-0.51, 0.6), (-0.98, 1.03), [-0.4, -0.2, 0.0, 0.2, 0.4], ['-0.4', '', '0.0', '0.2', '0.4'],
     [-0.5, 0.0, 0.5, 1.0], None),
    ((-0.64, 0.93), (-0.67, 0.61), [-0.5, 0.0, 0.5], None,
     [-0.6, -0.4, -0.2, 0.0, 0.2, 0.4, 0.6], ['-0.6', '', '-0.2', '', '0.2', '', '0.6']),
    ((-0.03, 1.04), (-0.04, 1.03), [0.0, 0.2, 0.4, 0.6, 0.8, 1.0], None, [0.0, 0.2, 0.4, 0.6, 0.8, 1.0], None),
]

blues = [a_blue, b_blue, c_blue, d_blue, e_blue, f_blue, g_blue, h_blue, i_blue, j_blue, k_blue]
blacks = [a_black, b_black, c_black, d_black, e_black, f_black, g_black, h_black, i_black, j_black, k_black]
bests = [a_best, b_best, c_best, d_best, e_best, f_best, g_best, h_best, i_best, j_best, k_best]

fig = plt.figure(figsize=(W / 100, H / 100), dpi=100)

def fmt(v):
    if abs(v) >= 9:
        return str(int(round(v)))
    return f'{v:.1f}'

for n in range(11):
    r, c = divmod(n, 4)
    ax = fig.add_axes([col_left[c] / W, 1 - (row_top[r] + ah) / H, aw / W, ah / H])
    xlim, ylim, xt, xtl, yt, ytl = axes_spec[n]

    bx, by = zip(*blues[n])
    kx, ky = zip(*blacks[n])
    ax.scatter(bx, by, s=11, facecolors='none', edgecolors='blue', linewidths=0.9)
    ax.scatter(kx, ky, s=11, facecolors='none', edgecolors='black', linewidths=0.9)
    ax.scatter([bests[n][0]], [bests[n][1]], marker='x', s=45, color='red', linewidths=2.2, zorder=5)

    ax.set_xlim(xlim)
    ax.set_ylim(ylim)
    ax.set_xticks(xt)
    ax.set_xticklabels(xtl if xtl is not None else [fmt(v) for v in xt])
    ax.set_yticks(yt)
    ax.set_yticklabels(ytl if ytl is not None else [fmt(v) for v in yt], rotation=90, va='center')
    ax.tick_params(direction='out', length=2.5, width=0.6, labelsize=6, pad=2, colors='#333333',
                   labelcolor='#333333')
    for sp in ax.spines.values():
        sp.set_linewidth(0.8)

    ax.set_xlabel(x_labels[n], fontsize=8, labelpad=5)
    ax.set_ylabel(y_labels[n], fontsize=8, labelpad=6)
    ax.text(-0.35, 1.07, tags[n], transform=ax.transAxes, fontsize=8.5, ha='left', va='center')

fig.savefig('out.png', dpi=100)
